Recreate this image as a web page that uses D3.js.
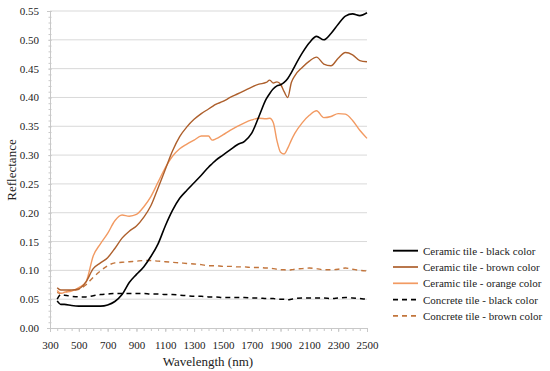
<!DOCTYPE html>
<html><head><meta charset="utf-8">
<script src="https://cdn.jsdelivr.net/npm/d3@7"></script>
<style>body{margin:0;background:#fff}svg{display:block}</style>
</head><body><svg id="c" width="550" height="371"></svg>
<script>
const wavelengths = [350,375,400,450,500,550,600,650,700,750,800,850,900,950,1000,1050,1100,1150,1200,1250,1300,1350,1400,1425,1450,1500,1550,1600,1650,1700,1750,1800,1825,1850,1875,1900,1925,1950,1975,2000,2050,2100,2150,2200,2250,2300,2350,2400,2450,2500];
const ceramicBlack = [0.047,0.041,0.041,0.039,0.038,0.038,0.038,0.038,0.040,0.046,0.058,0.079,0.093,0.106,0.124,0.146,0.177,0.204,0.225,0.239,0.252,0.265,0.279,0.285,0.291,0.300,0.309,0.318,0.324,0.338,0.367,0.397,0.407,0.415,0.420,0.422,0.426,0.433,0.443,0.455,0.477,0.495,0.506,0.500,0.511,0.527,0.541,0.545,0.542,0.547];
const ceramicBrown = [0.070,0.066,0.066,0.066,0.068,0.080,0.103,0.113,0.122,0.138,0.156,0.168,0.177,0.192,0.212,0.243,0.275,0.307,0.332,0.349,0.362,0.372,0.380,0.384,0.388,0.393,0.400,0.406,0.412,0.418,0.423,0.426,0.430,0.425,0.427,0.423,0.410,0.400,0.426,0.438,0.452,0.463,0.470,0.458,0.455,0.468,0.478,0.474,0.464,0.462];
const ceramicOrange = [0.065,0.060,0.062,0.064,0.070,0.080,0.125,0.146,0.164,0.186,0.196,0.194,0.197,0.210,0.228,0.253,0.278,0.298,0.311,0.319,0.326,0.333,0.333,0.326,0.328,0.335,0.343,0.350,0.356,0.361,0.364,0.363,0.364,0.356,0.325,0.305,0.302,0.312,0.326,0.338,0.356,0.369,0.377,0.365,0.367,0.372,0.371,0.360,0.343,0.329];
const concreteBlack = [0.050,0.058,0.057,0.055,0.054,0.054,0.056,0.058,0.059,0.060,0.060,0.060,0.060,0.060,0.059,0.059,0.058,0.058,0.057,0.056,0.055,0.055,0.054,0.054,0.054,0.053,0.053,0.053,0.053,0.052,0.052,0.051,0.051,0.051,0.050,0.050,0.050,0.049,0.050,0.051,0.052,0.052,0.052,0.052,0.051,0.052,0.053,0.052,0.051,0.050];
const concreteBrown = [0.062,0.060,0.062,0.065,0.067,0.075,0.088,0.099,0.108,0.113,0.114,0.115,0.116,0.117,0.117,0.116,0.115,0.114,0.113,0.112,0.111,0.110,0.108,0.108,0.108,0.107,0.107,0.106,0.106,0.105,0.105,0.104,0.104,0.103,0.102,0.101,0.101,0.100,0.101,0.102,0.103,0.104,0.103,0.101,0.101,0.102,0.104,0.102,0.100,0.099];
const seriesNames = ["Ceramic tile - black color","Ceramic tile - brown color","Ceramic tile - orange color","Concrete tile - black color","Concrete tile - brown color"];
const xTicks = [300,500,700,900,1100,1300,1500,1700,1900,2100,2300,2500];
const yTicks = [0,0.05,0.10,0.15,0.20,0.25,0.30,0.35,0.40,0.45,0.50,0.55];

const FONT = "Times New Roman";
const series = [
  {name:seriesNames[0], values:ceramicBlack, color:"#000000", dash:null, w:1.6},
  {name:seriesNames[1], values:ceramicBrown, color:"#ad5f2c", dash:null, w:1.4},
  {name:seriesNames[2], values:ceramicOrange, color:"#f29a62", dash:null, w:1.4},
  {name:seriesNames[3], values:concreteBlack, color:"#000000", dash:"5,4", w:1.5},
  {name:seriesNames[4], values:concreteBrown, color:"#c2753c", dash:"5,4", w:1.4}
];

const svg = d3.select("#c");
const x = d3.scaleLinear().domain([300,2500]).range([50,367]);
const y = d3.scaleLinear().domain([0,0.55]).range([328,11]);

svg.append("g").selectAll("line").data(yTicks.slice(1)).join("line")
  .attr("x1",50).attr("x2",367).attr("y1",d=>y(d)).attr("y2",d=>y(d))
  .attr("stroke","#d9d9d9").attr("stroke-width",1);

const yAxis = svg.append("g").attr("transform","translate(50,0)")
  .call(d3.axisLeft(y).tickValues(yTicks).tickFormat(d3.format(".2f")).tickSize(3).tickPadding(8));
const yMinor = svg.append("g").attr("transform","translate(50,0)")
  .call(d3.axisLeft(y).tickValues(d3.range(0,0.5501,0.01)).tickFormat("").tickSize(3));
yMinor.select(".domain").remove();
yMinor.selectAll("line").attr("stroke","#c8c8c8").attr("transform","translate(1.5,0)");
yAxis.select(".domain").attr("stroke","#c8c8c8");
yAxis.selectAll(".tick line").attr("stroke","#c8c8c8").attr("transform","translate(1.5,0)");
yAxis.attr("font-family",FONT).attr("font-size",11);
yAxis.selectAll("text").attr("fill","#222");

const xAxis = svg.append("g").attr("transform","translate(0,328)")
  .call(d3.axisBottom(x).tickValues(xTicks).tickFormat(d3.format("d")).tickSize(4).tickPadding(9));
const xMinor = svg.append("g").attr("transform","translate(0,328)")
  .call(d3.axisBottom(x).tickValues(d3.range(300,2501,50)).tickFormat("").tickSize(3));
xMinor.select(".domain").remove();
xMinor.selectAll("line").attr("stroke","#c8c8c8");
xAxis.select(".domain").attr("stroke","#c8c8c8");
xAxis.selectAll(".tick line").attr("stroke","#c8c8c8");
xAxis.attr("font-family",FONT).attr("font-size",11);
xAxis.selectAll("text").attr("fill","#222");

svg.append("text").attr("x",208).attr("y",366).attr("text-anchor","middle")
  .attr("font-family",FONT).attr("font-size",13).attr("fill","#222").text("Wavelength (nm)");
svg.append("text").attr("transform","translate(16,170) rotate(-90)").attr("text-anchor","middle")
  .attr("font-family",FONT).attr("font-size",13).attr("fill","#222").text("Reflectance");

const line = d3.line().x((d,i)=>x(wavelengths[i])).y(d=>y(d)).curve(d3.curveMonotoneX);
const draw = [series[4],series[3],series[2],series[1],series[0]];
svg.append("g").selectAll("path").data(draw).join("path")
  .attr("d",d=>line(d.values)).attr("fill","none")
  .attr("stroke",d=>d.color).attr("stroke-width",d=>d.w)
  .attr("stroke-dasharray",d=>d.dash);

const lg = svg.append("g");
series.forEach((s,i)=>{
  const yy = 250.7 + i*16.3;
  lg.append("line").attr("x1",393).attr("x2",418).attr("y1",yy).attr("y2",yy)
    .attr("stroke",s.color).attr("stroke-width",s.w+0.3).attr("stroke-dasharray",s.dash);
  lg.append("text").attr("x",423).attr("y",yy+4).attr("font-family",FONT).attr("font-size",11).attr("fill","#222").text(s.name);
});
</script></body></html>
